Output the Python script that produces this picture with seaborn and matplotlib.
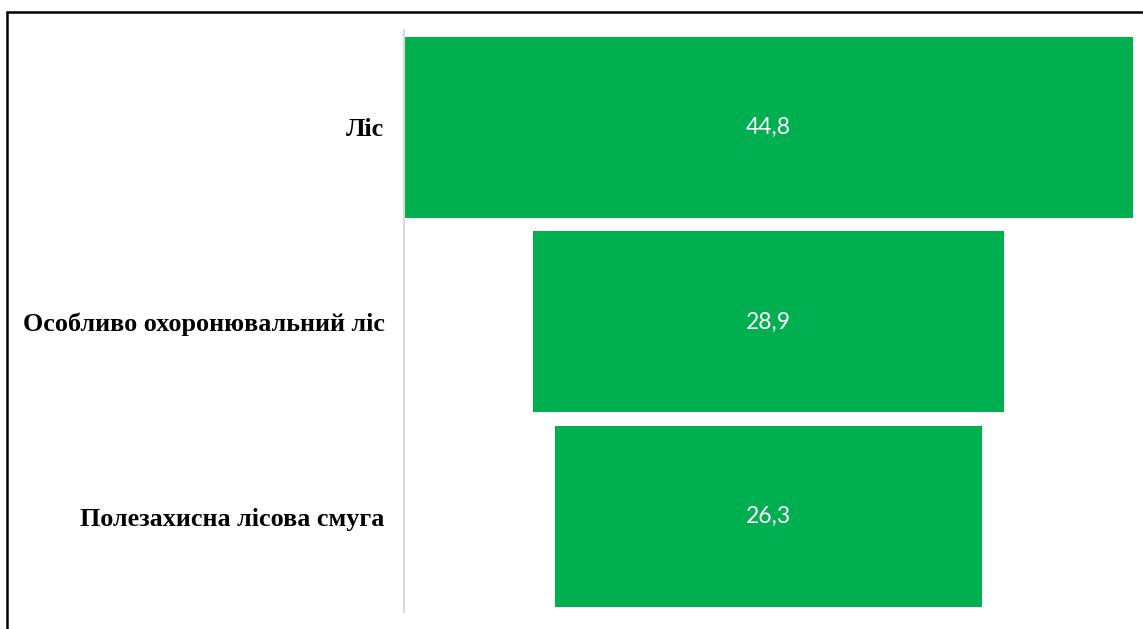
import matplotlib
matplotlib.use("Agg")
import matplotlib.pyplot as plt
import seaborn as sns
from matplotlib.lines import Line2D

categories = ["Ліс", "Особливо охоронювальний ліс", "Полезахисна лісова смуга"]
values = [44.8, 28.9, 26.3]
value_labels = ["44,8", "28,9", "26,3"]

GREEN = "#00b050"

sns.set_theme(style="white")

fig = plt.figure(figsize=(11.43, 6.29), dpi=100)
ax = fig.add_axes([404 / 1143, 17 / 629, 729 / 1143, 582 / 629])

sns.barplot(x=values, y=categories, color=GREEN, saturation=1, width=0.93, ax=ax)

# funnel: centre each bar on the widest one
vmax = max(values)
for patch, v, lab in zip(ax.patches, values, value_labels):
    patch.set_x((vmax - v) / 2)
    patch.set_edgecolor("none")
    cy = patch.get_y() + patch.get_height() / 2
    ax.text(vmax / 2, cy, lab, ha="center", va="center", color="white",
            fontsize=16.5, family="Lato")

ax.set_xlim(0, vmax)
ax.set_ylim(2.49, -0.5)
ax.set_xlabel("")
ax.set_ylabel("")
ax.set_xticks([])
ax.tick_params(axis="y", length=0, pad=14)
for t in ax.get_yticklabels():
    t.set_fontfamily("Liberation Serif")
    t.set_fontweight("bold")
    t.set_fontsize(18.8)
    t.set_color("black")

for s in ["top", "right", "bottom"]:
    ax.spines[s].set_visible(False)
ax.spines["left"].set_color("#d9d9d9")
ax.spines["left"].set_linewidth(1.5)

# outer frame (top and left edges visible)
fig.add_artist(Line2D([7 / 1143, 7 / 1143], [0, 1 - 12 / 629], color="black", lw=1.8,
                      transform=fig.transFigure))
fig.add_artist(Line2D([7 / 1143, 1], [1 - 12 / 629, 1 - 12 / 629], color="black", lw=1.8,
                      transform=fig.transFigure))

fig.savefig("out.png", dpi=100, facecolor="white")
